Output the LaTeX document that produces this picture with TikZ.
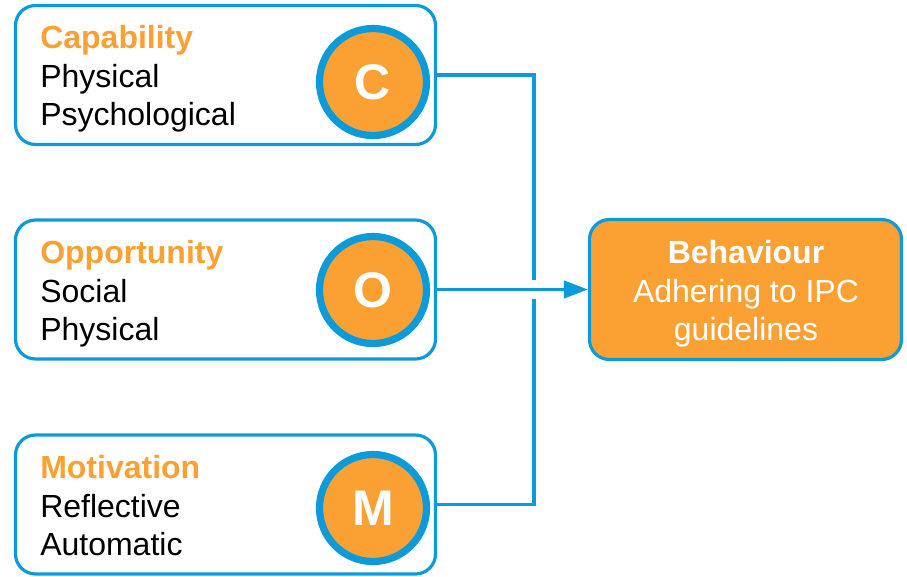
\documentclass[tikz,border=0pt]{standalone}
\usepackage{fontspec}
\setmainfont{Liberation Sans}
\usetikzlibrary{arrows.meta}
\definecolor{cblue}{HTML}{0B9BDA}
\definecolor{corange}{HTML}{FBA133}
\begin{document}
\begin{tikzpicture}[x=0.75pt,y=-0.75pt,
  box/.style={draw=cblue, line width=2.4pt, rounded corners=15pt, fill=white,
    minimum width=315pt, minimum height=104.25pt, inner sep=0},
  behbox/.style={draw=cblue, line width=2.4pt, rounded corners=15pt, fill=corange,
    minimum width=234pt, minimum height=105pt, inner sep=0},
  letter/.style={circle, draw=cblue, line width=5.4pt, fill=corange, minimum size=80.25pt,
    inner sep=0, text=white, font=\fontsize{37.5}{40}\selectfont\bfseries},
  txt/.style={font=\fontsize{24}{29}\selectfont, inner sep=0, anchor=base west},
  head/.style={txt, text=corange, font=\fontsize{24}{29}\selectfont\bfseries},
  btxt/.style={font=\fontsize{24}{29}\selectfont, inner sep=0, anchor=base, text=white},
  conn/.style={draw=cblue, line width=2.4pt}
]
\useasboundingbox (0,0) rectangle (907,576);
% boxes
\node[box] (cbox) at (225.5,75) {};
\node[box] (obox) at (225.5,289.5) {};
\node[box] (mbox) at (225.5,504.5) {};
\node[behbox] (beh) at (745.5,289.5) {};
% circles
\node[letter] (ccirc) at (373,82) {C};
\node[letter] (ocirc) at (373,290) {O};
\node[letter] (mcirc) at (373,508) {M};
% texts
\node[head] (ct1) at (40,48.5) {Capability};
\node[txt] (ct2) at (40,87) {Physical};
\node[txt] (ct3) at (40,125.5) {Psychological};
\node[head] (ot1) at (40,263.5) {Opportunity};
\node[txt] (ot2) at (40,302) {Social};
\node[txt] (ot3) at (40,340.5) {Physical};
\node[head] (mt1) at (40,478.5) {Motivation};
\node[txt] (mt2) at (40,517) {Reflective};
\node[txt] (mt3) at (40,555.5) {Automatic};
\node[btxt, font=\fontsize{24}{29}\selectfont\bfseries] (bt1) at (746,263.5) {Behaviour};
\node[btxt] (bt2) at (746,302) {Adhering to IPC};
\node[btxt] (bt3) at (746,340) {guidelines};
% connectors
\coordinate (gaptop) at (534,280);
\coordinate (gapbot) at (534,299);
\draw[conn] (cbox.east) -| (gaptop);
\draw[conn] (mbox.east) -| (gapbot);
\draw[conn, -{Triangle[length=18pt, width=13pt]}] (obox.east) -- (beh.west);
\end{tikzpicture}
\end{document}
